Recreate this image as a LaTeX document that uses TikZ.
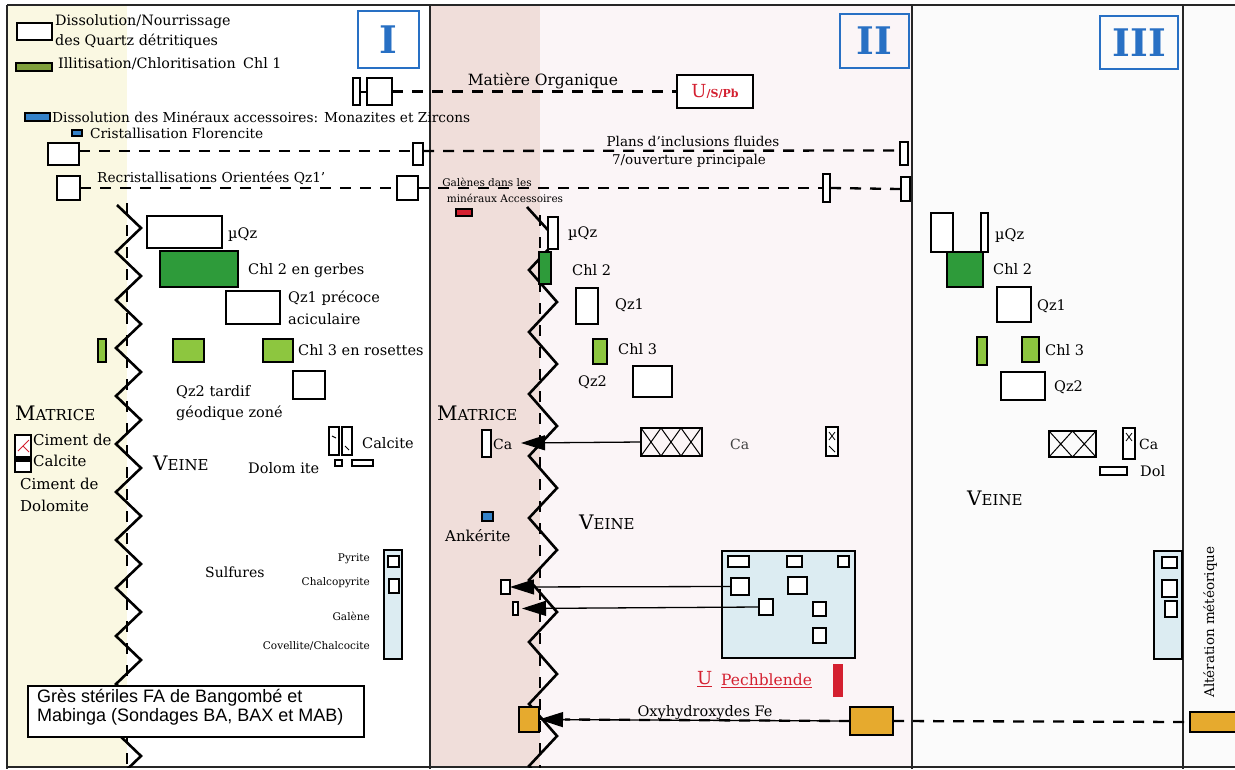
\documentclass[tikz,border=0pt]{standalone}
\usepackage{fontspec}
\setmainfont{DejaVu Serif}
\newfontfamily\sansf{Liberation Sans}
\usetikzlibrary{arrows.meta}
\definecolor{ylw}{RGB}{250,248,226}
\definecolor{pnk}{RGB}{240,222,218}
\definecolor{pnkl}{RGB}{251,245,247}
\definecolor{wht}{RGB}{251,251,251}
\definecolor{gdk}{RGB}{46,155,58}
\definecolor{glt}{RGB}{141,198,63}
\definecolor{olv}{RGB}{128,160,60}
\definecolor{blu}{RGB}{52,130,200}
\definecolor{romb}{RGB}{40,112,196}
\definecolor{rd}{RGB}{212,32,48}
\definecolor{org}{RGB}{230,170,46}
\definecolor{lbl}{RGB}{220,236,242}
\newcommand\fs[1]{\fontsize{#1}{#1}\selectfont}
\newcommand\rbox[6]{\node[#6, minimum width={(#4-#2)*1pt}, minimum height={(#5-#3)*1pt}, anchor=north west] (#1) at (#2,#3) {};}
\tikzset{
  bx/.style={draw=black, line width=2.4pt, fill=white, inner sep=0pt, outer sep=0pt},
  bxt/.style={bx, line width=1.8pt},
  lab/.style={inner sep=0pt, anchor=west, font=\fs{#1}},
  lab/.default=14.5,
  rom/.style={draw=romb, line width=2.2pt, text=romb, font=\fs{38}\bfseries, inner sep=0pt, anchor=north west},
  dsh/.style={line width=2.3pt, dash pattern=on 11pt off 9pt},
  zz/.style={line width=2.6pt, line join=miter},
  vdsh/.style={line width=2.2pt, dash pattern=on 11pt off 11pt},
  frame/.style={line width=2pt, draw=black!85},
  arr/.style={line width=1.3pt, -{Triangle[length=24pt,width=15pt]}}
}
\begin{document}
\begin{tikzpicture}[x=1pt,y=-1pt]
\useasboundingbox (0,0) rectangle (1235,769);
% backgrounds
\fill[white] (0,0) rectangle (1235,769);
\fill[ylw] (7,5) rectangle (127,767);
\fill[pnk] (430,5) rectangle (540,767);
\fill[pnkl] (540,5) rectangle (912,767);
\fill[wht] (912,5) rectangle (1235,767);
% frame
\draw[frame] (7,5) -- (1235,5);
\draw[frame] (7,767) -- (1235,767);
\draw[frame] (7,5) -- (7,769);
\draw[frame] (430,5) -- (430,769);
\draw[frame] (912,5) -- (912,769);
\draw[frame] (1183,5) -- (1183,769);
% roman numerals
\node[rom, minimum width=61pt, minimum height=57pt] (n1) at (357,10) {I};
\node[rom, minimum width=69pt, minimum height=54pt] (n2) at (839,13) {II};
\node[rom, minimum width=78pt, minimum height=53pt] (n3) at (1099,15) {III};
% zigzags
\begin{scope}
\clip (7,5) rectangle (1235,767);
\draw[zz] (117,205) \foreach \k in {0,...,11}{ -- (141,{228+48*\k}) -- (116,{252+48*\k}) };
\draw[vdsh] (127,203) -- (127,769);
\draw[zz] (527,207) -- (557,240) \foreach \k in {0,...,8}{ -- (529,{270+62*\k}) -- (557,{302+62*\k}) };
\draw[vdsh] (540,215) -- (540,769);
\end{scope}
% legend
\rbox{lg1}{17}{23}{52}{40}{bx}
\rbox{lg2}{16}{63}{52}{71}{bx, fill=olv}
\rbox{lg3}{25}{113}{50}{121}{bxt, fill=blu}
\rbox{lg4}{72}{130}{82}{136}{bxt, fill=blu}
\node[lab=14.3] (tl1a) at (55,22) {Dissolution/Nourrissage};
\node[lab=14.3] (tl1b) at (55,41) {des Quartz détritiques};
\node[lab=14.3] (tl2) at (58,64) {Illitisation/Chloritisation};
\node[lab=14.3] (tl2b) at (243,63) {Chl 1};
\node[lab=13.7] (tl3) at (52,117) {Dissolution des Minéraux accessoires: Monazites et Zircons};
\node[lab=13.7] (tl4) at (90,133) {Cristallisation Florencite};
% matiere organique
\rbox{mo1}{353}{78}{360}{105}{bxt}
\rbox{mo2}{367}{78}{392}{105}{bx}
\node[bx, minimum width=76pt, minimum height=33pt, anchor=north west, text=rd] (ups) at (677,75) {\fs{18}U\fs{11}\bfseries/S/Pb};
\draw[line width=2pt] (mo1.east) -- (mo2.west);
\draw[dsh] (mo2.east) -- (ups.west);
\node[lab=15.5, anchor=center] (tmo) at (543,81) {Matière Organique};
% plans d'inclusions
\rbox{r1a}{48}{143}{79}{165}{bx}
\rbox{r1b}{413}{143}{423}{165}{bxt}
\rbox{r1c}{900}{142}{908}{165}{bxt}
\draw[dsh] ([yshift=3pt]r1a.east) -- ([yshift=3pt]r1b.west);
\draw[dsh] ([yshift=3pt]r1b.east) -- ([yshift=3pt]r1c.west);
\node[lab=13.5, anchor=center] (tp1) at (693,141) {Plans d’inclusions fluides};
\node[lab=13.5, anchor=center] (tp2) at (689,161) {7/ouverture principale};
% recristallisations
\rbox{r2a}{57}{176}{80}{200}{bx}
\rbox{r2b}{397}{176}{418}{200}{bx}
\rbox{r2c}{823}{174}{830}{202}{bxt}
\rbox{r2d}{901}{177}{910}{201}{bxt}
\draw[dsh] (r2a.east) -- (r2b.west);
\draw[dsh] (r2b.east) -- (r2c.west);
\draw[dsh] (r2c.east) -- (r2d.west);
\node[lab=13.7] (tr2) at (97,178) {Recristallisations Orientées Qz1’};
\node[lab=10.5, anchor=center] (tg1) at (487,182) {Galènes dans les};
\node[lab=10.5, anchor=center] (tg2) at (505,198) {minéraux Accessoires};
\rbox{gm}{456}{209}{472}{216}{bxt, fill=rd}
% ---------- panel I ----------
\rbox{p1mq}{147}{216}{222}{248}{bx}
\rbox{p1c2}{160}{251}{238}{287}{bx, fill=gdk}
\rbox{p1q1}{226}{291}{280}{324}{bx}
\rbox{p1c3a}{98}{339}{106}{362}{bxt, fill=glt}
\rbox{p1c3b}{173}{339}{204}{362}{bx, fill=glt}
\rbox{p1c3c}{263}{339}{293}{362}{bx, fill=glt}
\rbox{p1q2}{293}{371}{325}{399}{bx}
\rbox{p1ca1}{329}{427}{339}{455}{bx}
\rbox{p1ca2}{342}{427}{352}{455}{bx}
\draw[line width=1pt] (332,436) -- (336,438) (345,446) -- (349,450);
\rbox{p1do1}{335}{460}{342}{466}{bxt}
\rbox{p1do2}{352}{460}{373}{466}{bxt}
\rbox{cim}{15}{435}{31}{472}{bx}
\fill[black] (15,456) rectangle (31,462);
\draw[rd, line width=0.8pt] (18,451) -- (23,446) -- (29,440) (23,446) -- (29,452);
\node[lab] (tp1a) at (228,235) {µQz};
\node[lab] (tp1b) at (248,271) {Chl 2 en gerbes};
\node[lab] (tp1c) at (288,298) {Qz1 précoce};
\node[lab] (tp1d) at (288,319) {aciculaire};
\node[lab] (tp1e) at (298,350) {Chl 3 en rosettes};
\node[lab] (tp1f) at (176,392) {Qz2 tardif};
\node[lab] (tp1g) at (176,413) {géodique zoné};
\node[lab] (mat1) at (15,413) {\fs{20}M\fs{15}ATRICE};
\node[lab=15] (tci1) at (33,440) {Ciment de};
\node[lab=15] (tci2) at (33,461) {Calcite};
\node[lab=15] (tci3) at (20,484) {Ciment de};
\node[lab=15] (tci4) at (20,506) {Dolomite};
\node[lab] (vei1) at (153,463) {\fs{20}V\fs{15}EINE};
\node[lab] (tcal) at (362,443) {Calcite};
\node[lab] (tdol) at (248,468) {Dolom ite};
\node[lab=14] (tsul) at (205,572) {Sulfures};
\rbox{sulcol}{384}{550}{402}{659}{bx, fill=lbl}
\rbox{sul1}{388}{556}{399}{567}{bxt}
\rbox{sul2}{389}{579}{399}{593}{bxt}
\node[lab=10.5, anchor=east] (tpy) at (370,559) {Pyrite};
\node[lab=10.5, anchor=east] (tcp) at (370,583) {Chalcopyrite};
\node[lab=10.5, anchor=east] (tga) at (370,616) {Galène};
\node[lab=10.5, anchor=east] (tcv) at (370,646) {Covellite/Chalcocite};
\node[bx, minimum width=336pt, minimum height=51pt, anchor=north west] (gres) at (28,686) {};
\node[inner sep=0pt, anchor=north west, align=left, font=\sansf\fs{18}] (tgres) at (37,689) {Grès stériles FA de Bangombé et\\[1pt]Mabinga (Sondages BA, BAX et MAB)};
% ---------- panel II ----------
\rbox{p2mq}{548}{217}{558}{249}{bxt}
\rbox{p2c2}{539}{252}{551}{284}{bxt, fill=gdk}
\rbox{p2q1}{576}{288}{598}{324}{bx}
\rbox{p2c3}{593}{339}{607}{364}{bxt, fill=glt}
\rbox{p2q2}{633}{366}{672}{397}{bx}
\rbox{p2ca}{482}{430}{491}{457}{bxt}
\foreach \i in {0,1,2}{\draw[line width=1pt] ({641+20*\i},456) -- ({661+20*\i},428) ({641+20*\i},428) -- ({661+20*\i},456);}
\rbox{p2x}{641}{428}{702}{456}{bx, fill=none}
\rbox{p2cax}{826}{427}{838}{456}{bxt}
\draw[line width=0.8pt] (829,432) -- (835,440) (829,440) -- (835,432) (829,446) -- (835,452);
\node[lab] (tp2a) at (568,234) {µQz};
\node[lab] (tp2b) at (572,270) {Chl 2};
\node[lab] (tp2c) at (615,305) {Qz1};
\node[lab] (tp2d) at (618,349) {Chl 3};
\node[lab] (tp2e) at (578,382) {Qz2};
\node[lab] (mat2) at (437,413) {\fs{20}M\fs{15}ATRICE};
\node[lab=14] (tca2) at (493,444) {Ca};
\node[lab=14, text=black!75] (tca3) at (730,444) {Ca};
\coordinate (catip) at (521,443);
\draw[arr] (p2x.west) -- (catip);
\rbox{ank}{482}{512}{493}{521}{bxt, fill=blu}
\node[lab=15] (tank) at (445,536) {Ankérite};
\node[lab] (vei2) at (579,522) {\fs{20}V\fs{15}EINE};
\rbox{sulbox}{722}{551}{855}{658}{bx, fill=lbl}
\rbox{s1}{728}{556}{749}{567}{bxt}
\rbox{s2}{787}{556}{802}{567}{bxt}
\rbox{s3}{838}{556}{849}{567}{bxt}
\rbox{s4}{731}{578}{749}{595}{bxt}
\rbox{s5}{788}{577}{807}{594}{bxt}
\rbox{s6}{759}{599}{773}{615}{bxt}
\rbox{s7}{813}{602}{826}{616}{bxt}
\rbox{s8}{813}{628}{826}{643}{bxt}
\rbox{pa}{501}{580}{510}{594}{bxt}
\rbox{pb}{513}{602}{518}{615}{bxt}
\draw[arr] (s4.west) -- (pa.east);
\draw[arr] (s6.west) -- ([xshift=4pt]pb.east);
\node[lab=18, text=rd] (tu) at (697,679) {\underline{U}};
\node[lab=15.5, text=rd] (tpech) at (721,681) {\underline{Pechblende}};
\node[fill=rd, inner sep=0pt, minimum width=10pt, minimum height=33pt, anchor=north west] (pech) at (833,664) {};
\rbox{ob1}{519}{707}{539}{732}{bx, fill=org}
\rbox{ob2}{850}{707}{893}{735}{bx, fill=org}
\rbox{ob3}{1190}{712}{1242}{732}{bx, fill=org}
\draw[arr] (ob2.west) -- (ob1.east);
\draw[dsh] (ob2.west) -- ([xshift=26pt]ob1.east);
\draw[dsh] (ob2.east) -- (ob3.west);
\node[lab=14.5, anchor=center] (tox) at (705,713) {Oxyhydroxydes Fe};
% ---------- panel III ----------
\rbox{p3mq1}{931}{213}{953}{252}{bx}
\rbox{p3mq2}{981}{213}{988}{252}{bxt}
\rbox{p3c2}{947}{252}{983}{287}{bx, fill=gdk}
\rbox{p3q1}{997}{287}{1031}{322}{bx}
\rbox{p3c3a}{977}{337}{987}{365}{bxt, fill=glt}
\rbox{p3c3b}{1022}{337}{1039}{362}{bx, fill=glt}
\rbox{p3q2}{1001}{372}{1045}{400}{bx}
\foreach \i in {0,1}{\draw[line width=1pt] ({1049+23.5*\i},457) -- ({1072.5+23.5*\i},431) ({1049+23.5*\i},431) -- ({1072.5+23.5*\i},457);}
\rbox{p3x}{1049}{431}{1096}{457}{bx, fill=none}
\rbox{p3ca}{1123}{428}{1135}{459}{bxt}
\draw[line width=0.8pt] (1126,433) -- (1132,441) (1126,441) -- (1132,433);
\rbox{p3dol}{1100}{467}{1127}{475}{bxt}
\node[lab] (tp3a) at (995,236) {µQz};
\node[lab] (tp3b) at (993,269) {Chl 2};
\node[lab] (tp3c) at (1037,306) {Qz1};
\node[lab] (tp3d) at (1045,350) {Chl 3};
\node[lab] (tp3e) at (1054,387) {Qz2};
\node[lab=14] (tp3f) at (1139,444) {Ca};
\node[lab] (tp3g) at (1140,471) {Dol};
\node[lab] (vei3) at (967,498) {\fs{20}V\fs{15}EINE};
\rbox{p3col}{1154}{551}{1182}{659}{bx, fill=lbl}
\rbox{p3s1}{1162}{557}{1177}{568}{bxt}
\rbox{p3s2}{1162}{580}{1177}{597}{bxt}
\rbox{p3s3}{1165}{601}{1177}{617}{bxt}
\node[lab=13.5, anchor=center, rotate=90] (talt) at (1210,622) {Altération météorique};
\end{tikzpicture}
\end{document}
